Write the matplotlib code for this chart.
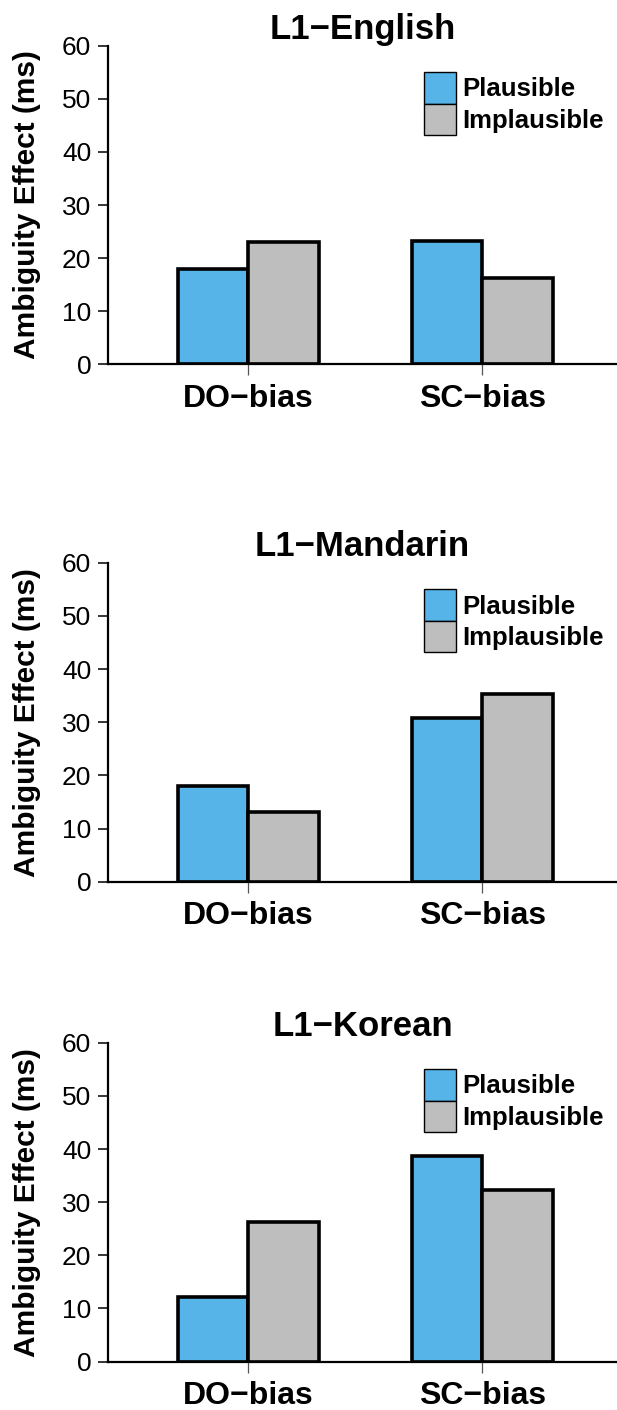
import matplotlib
matplotlib.use("Agg")
import matplotlib.pyplot as plt
from matplotlib.patches import Patch
import numpy as np

plt.rcParams['font.family'] = ['Liberation Sans', 'DejaVu Sans']

# values (ms)
groups = ["DO\u2212bias", "SC\u2212bias"]
panels = ["L1\u2212English", "L1\u2212Mandarin", "L1\u2212Korean"]
plausible = {
    "L1\u2212English": [18.0, 23.3],
    "L1\u2212Mandarin": [18.0, 30.8],
    "L1\u2212Korean": [12.2, 38.6],
}
implausible = {
    "L1\u2212English": [23.0, 16.3],
    "L1\u2212Mandarin": [13.1, 35.3],
    "L1\u2212Korean": [26.3, 32.3],
}
yticks = [0, 10, 20, 30, 40, 50, 60]

BLUE = "#56B4E9"
GREY = "#BEBEBE"

fig = plt.figure(figsize=(6.17, 14.10), dpi=100)

# axes boxes in figure fractions (left, bottom, width, height)
boxes = [
    (0.175, 0.7416, 0.825, 0.2260),
    (0.175, 0.3747, 0.825, 0.2262),
    (0.175, 0.0343, 0.825, 0.2262),
]

x = np.arange(1, len(groups) + 1)
w = 0.3

for name, box in zip(panels, boxes):
    ax = fig.add_axes(box)
    ax.bar(x - w / 2, plausible[name], width=w, color=BLUE,
           edgecolor="black", linewidth=2.6)
    ax.bar(x + w / 2, implausible[name], width=w, color=GREY,
           edgecolor="black", linewidth=2.6)

    ax.set_xlim(0.4, 2.575)
    ax.set_ylim(0, 60)
    ax.set_yticks(yticks)
    ax.set_xticks(x)
    ax.set_xticklabels(groups, fontsize=23, fontweight="bold")
    ax.tick_params(axis="y", labelsize=19, length=7, width=1.1, pad=5)
    ax.tick_params(axis="x", length=8, width=0.9, color="#555555", pad=6)

    for s in ("top", "right"):
        ax.spines[s].set_visible(False)
    ax.spines["left"].set_linewidth(1.6)
    ax.spines["bottom"].set_linewidth(1.6)

    ax.set_title(name, fontsize=25, fontweight="bold", pad=3)
    ax.set_ylabel("Ambiguity Effect (ms)", fontsize=21.5, fontweight="bold")
    ax.yaxis.set_label_coords(-0.132, 0.5)

    handles = [Patch(facecolor=BLUE, edgecolor="black", linewidth=1.0),
               Patch(facecolor=GREY, edgecolor="black", linewidth=1.0)]
    ax.legend(handles, ["Plausible", "Implausible"], loc="upper left",
              bbox_to_anchor=(0.621, 0.9165), frameon=False, borderpad=0,
              borderaxespad=0, labelspacing=0, handlelength=1.25,
              handleheight=1.5, handletextpad=0.22,
              prop={"size": 18.5, "weight": "bold"})

fig.savefig("out.png", dpi=100)
plt.close(fig)
